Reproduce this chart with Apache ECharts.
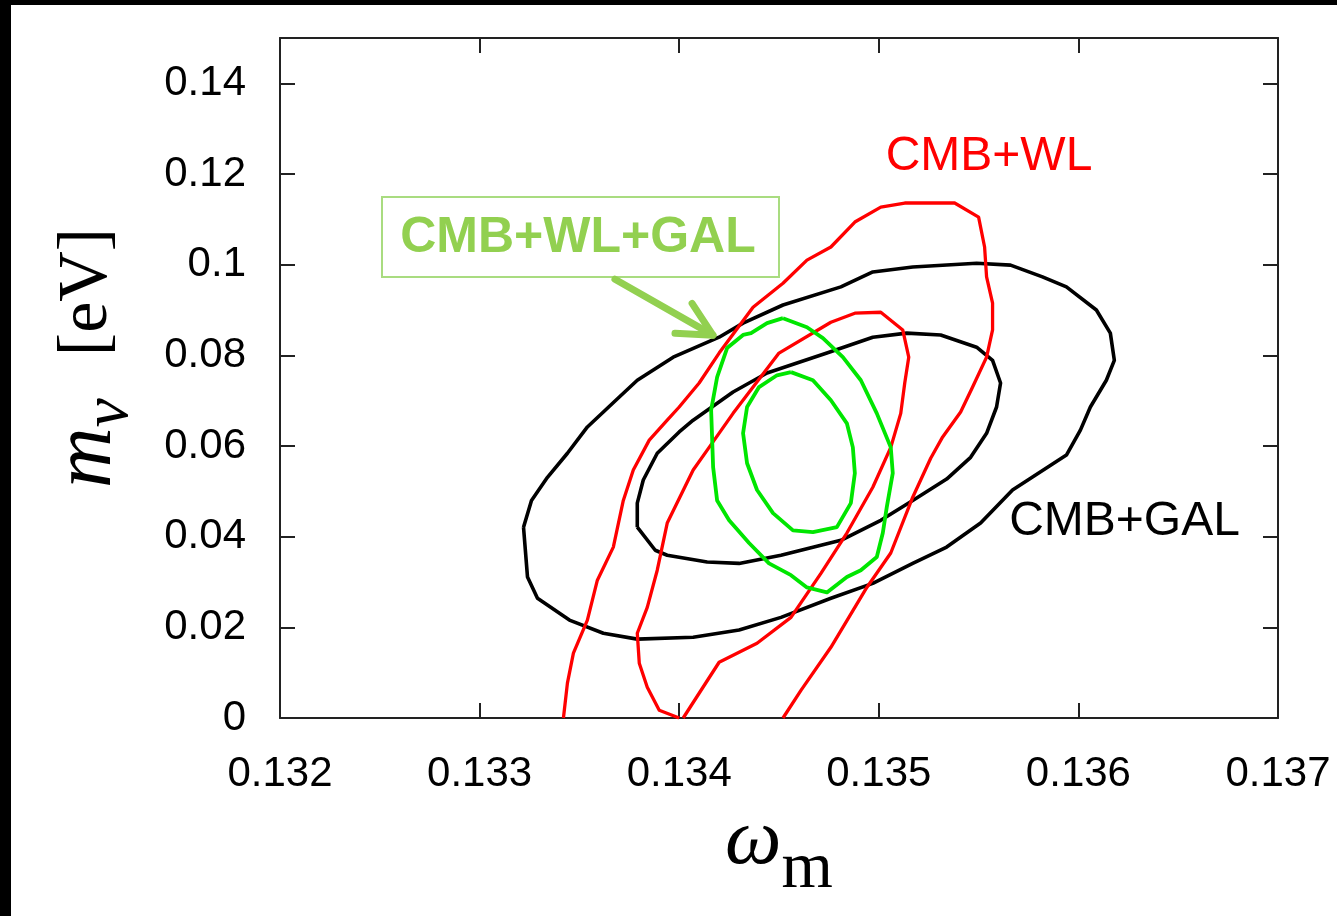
<!DOCTYPE html>
<html>
<head>
<meta charset="utf-8">
<script src="https://cdn.jsdelivr.net/npm/echarts@6/dist/echarts.min.js"></script>
<style>
  html, body { margin: 0; padding: 0; background: #000; width: 1337px; height: 916px; overflow: hidden; }
  #main { position: absolute; left: 11px; top: 5px; width: 1326px; height: 911px; background: #fff; }
</style>
</head>
<body>
<div id="main"></div>
<script>
// ---- axis ranges / ticks ----
const xMin = 0.132, xMax = 0.137, xStep = 0.001;
const yMin = 0, yMax = 0.15, yStep = 0.02;

// ---- contour data [omega_m, m_nu] ----
// CMB+WL (red), 2-sigma, open at the bottom
const cmbWlOuter = [
  [0.13342,0],[0.13344,0.0077],[0.13347,0.0143],[0.13354,0.0216],[0.13359,0.0304],
  [0.13367,0.0377],[0.13372,0.0480],[0.13377,0.0547],[0.13385,0.0613],[0.13394,0.0657],
  [0.13400,0.0686],[0.13410,0.0739],[0.13420,0.0805],[0.13437,0.0906],[0.13452,0.0959],
  [0.13464,0.1010],[0.13476,0.1039],[0.13488,0.1094],[0.13501,0.1127],[0.13513,0.1136],
  [0.13538,0.1136],[0.13550,0.1105],[0.13553,0.1039],[0.13554,0.0973],[0.13557,0.0915],
  [0.13557,0.0856],[0.13554,0.0796],[0.13547,0.0730],[0.13541,0.0675],[0.13532,0.0620],
  [0.13526,0.0573],[0.13517,0.0487],[0.13506,0.0364],[0.13494,0.0288],[0.13476,0.0156],
  [0.13461,0.0061],[0.13452,0]
];
// CMB+WL (red), 1-sigma, open at the bottom
const cmbWlInner = [
  [0.13400,0],[0.13390,0.0017],[0.13384,0.0068],[0.13380,0.0121],[0.13379,0.0187],
  [0.13384,0.0244],[0.13389,0.0326],[0.13394,0.0430],[0.13407,0.0547],[0.13415,0.0597],
  [0.13427,0.0672],[0.13450,0.0805],[0.13476,0.0873],[0.13488,0.0893],[0.13501,0.0895],
  [0.13512,0.0856],[0.13515,0.0796],[0.13513,0.0739],[0.13511,0.0672],[0.13506,0.0597],
  [0.13497,0.0509],[0.13484,0.0408],[0.13471,0.0319],[0.13456,0.0222],[0.13439,0.0165],
  [0.13420,0.0123],[0.13402,0]
];
// CMB+GAL (black), 2-sigma, closed
const cmbGalOuter = [
  [0.13322,0.0421],[0.13326,0.0480],[0.13334,0.0531],[0.13344,0.0584],[0.13354,0.0642],
  [0.13370,0.0708],[0.13379,0.0745],[0.13397,0.0796],[0.13420,0.0840],[0.13432,0.0871],
  [0.13452,0.0911],[0.13481,0.0951],[0.13497,0.0984],[0.13517,0.0995],[0.13549,0.1003],
  [0.13566,0.0999],[0.13582,0.0973],[0.13594,0.0951],[0.13609,0.0900],[0.13616,0.0849],
  [0.13618,0.0789],[0.13614,0.0745],[0.13606,0.0686],[0.13601,0.0635],[0.13594,0.0580],
  [0.13567,0.0503],[0.13551,0.0430],[0.13534,0.0377],[0.13517,0.0341],[0.13497,0.0297],
  [0.13476,0.0264],[0.13451,0.0222],[0.13430,0.0194],[0.13407,0.0178],[0.13379,0.0174],
  [0.13362,0.0187],[0.13345,0.0216],[0.13329,0.0264],[0.13324,0.0311],[0.13322,0.0421]
];
// CMB+GAL (black), 1-sigma, closed
const cmbGalInner = [
  [0.13379,0.0421],[0.13379,0.0474],[0.13382,0.0525],[0.13389,0.0584],[0.13400,0.0631],
  [0.13407,0.0657],[0.13427,0.0719],[0.13444,0.0761],[0.13474,0.0805],[0.13497,0.0840],
  [0.13514,0.0849],[0.13531,0.0845],[0.13549,0.0818],[0.13557,0.0789],[0.13561,0.0739],
  [0.13559,0.0686],[0.13554,0.0628],[0.13546,0.0575],[0.13534,0.0527],[0.13517,0.0480],
  [0.13501,0.0436],[0.13481,0.0392],[0.13451,0.0359],[0.13430,0.0341],[0.13414,0.0344],
  [0.13394,0.0359],[0.13388,0.0370],[0.13379,0.0421]
];
// CMB+WL+GAL (green), 2-sigma, closed
const allOuter = [
  [0.13452,0.0882],[0.13464,0.0862],[0.13472,0.0838],[0.13482,0.0796],[0.13491,0.0745],
  [0.13499,0.0672],[0.13506,0.0597],[0.13507,0.0540],[0.13504,0.0465],[0.13502,0.0408],
  [0.13499,0.0355],[0.13491,0.0326],[0.13484,0.0311],[0.13474,0.0277],[0.13464,0.0288],
  [0.13456,0.0315],[0.13445,0.0341],[0.13435,0.0386],[0.13425,0.0436],[0.13419,0.0480],
  [0.13417,0.0553],[0.13416,0.0679],[0.13419,0.0752],[0.13424,0.0816],[0.13432,0.0845],
  [0.13436,0.0849],[0.13444,0.0871],[0.13452,0.0882]
];
// CMB+WL+GAL (green), 1-sigma, closed
const allInner = [
  [0.13456,0.0763],[0.13467,0.0745],[0.13476,0.0701],[0.13484,0.0650],[0.13487,0.0597],
  [0.13488,0.0540],[0.13486,0.0474],[0.13479,0.0421],[0.13467,0.0410],[0.13457,0.0414],
  [0.13447,0.0452],[0.13439,0.0503],[0.13434,0.0562],[0.13432,0.0628],[0.13434,0.0686],
  [0.13440,0.0730],[0.13449,0.0756],[0.13456,0.0763]
];

// ---- annotation anchors (data coordinates) ----
const labelWl = { text: 'CMB+WL', at: [0.135552, 0.12374] };
const labelGal = { text: 'CMB+GAL', at: [0.136231, 0.04319] };
const labelAll = { text: 'CMB+WL+GAL', at: [0.133493, 0.10575], box: [[0.132511, 0.11491], [0.134500, 0.09726]] };
const arrowAll = { from: [0.133678, 0.09680], to: [0.134169, 0.08445] };

const chart = echarts.init(document.getElementById('main'));

const axisLineStyle = { color: '#222', width: 2 };
const tickStyle = { show: true, inside: true, length: 15, lineStyle: { color: '#222', width: 2 } };
const tickFont = { fontFamily: '"Liberation Sans", Arial, sans-serif', fontSize: 42, color: '#000' };

function line(name, data, color, width) {
  return {
    name, type: 'line', data, showSymbol: false, symbol: 'none', smooth: false,
    lineStyle: { color, width, join: 'round' }, silent: true, animation: false, z: 3
  };
}

const option = {
  animation: false,
  backgroundColor: '#fff',
  grid: { left: 269, top: 33, right: 59, bottom: 198, containLabel: false },
  xAxis: [
    {
      type: 'value', position: 'bottom', min: xMin, max: xMax, interval: xStep,
      axisLine: { show: true, onZero: false, lineStyle: axisLineStyle },
      axisTick: tickStyle,
      axisLabel: Object.assign({ margin: 35, showMinLabel: true, showMaxLabel: true,
        formatter: v => v.toFixed(3) }, tickFont),
      splitLine: { show: false },
      name: '{w|ω}{sub|m}',
      nameLocation: 'middle',
      nameGap: 62,
      nameTextStyle: {
        rich: {
          w: { fontFamily: '"Liberation Serif", serif', fontStyle: 'italic', fontSize: 80, lineHeight: 123, color: '#000' },
          sub: { fontFamily: '"Liberation Serif", serif', fontSize: 66, verticalAlign: 'bottom', color: '#000' }
        }
      }
    },
    {
      type: 'value', position: 'top', min: xMin, max: xMax, interval: xStep,
      axisLine: { show: true, onZero: false, lineStyle: axisLineStyle },
      axisTick: tickStyle, axisLabel: { show: false }, splitLine: { show: false }
    }
  ],
  yAxis: [
    {
      type: 'value', position: 'left', min: yMin, max: yMax, interval: yStep,
      axisLine: { show: true, onZero: false, lineStyle: axisLineStyle },
      axisTick: tickStyle,
      axisLabel: Object.assign({ margin: 34, showMinLabel: true, showMaxLabel: false,
        formatter: v => (v > 0.141 ? '' : String(+v.toFixed(2))) }, tickFont),
      splitLine: { show: false },
      name: '{s1| }{m|m}{nu|ν}{s2| }{ev|[eV]}',
      nameLocation: 'middle',
      nameRotate: 90,
      nameGap: 137,
      nameTextStyle: {
        rich: {
          s1: { width: 40, fontSize: 10 },
          m: { fontFamily: '"Liberation Serif", serif', fontStyle: 'italic', fontSize: 84, lineHeight: 110, color: '#000' },
          nu: { fontFamily: '"Liberation Serif", serif', fontStyle: 'italic', fontSize: 66, verticalAlign: 'bottom', color: '#000' },
          s2: { width: 42, fontSize: 10 },
          ev: { fontFamily: '"Liberation Serif", serif', fontSize: 70, color: '#000' }
        }
      }
    },
    {
      type: 'value', position: 'right', min: yMin, max: yMax, interval: yStep,
      axisLine: { show: true, onZero: false, lineStyle: axisLineStyle },
      axisTick: tickStyle, axisLabel: { show: false }, splitLine: { show: false }
    }
  ],
  series: [
    line('CMB+GAL 2σ', cmbGalOuter, '#000000', 3.6),
    line('CMB+GAL 1σ', cmbGalInner, '#000000', 3.6),
    line('CMB+WL 2σ', cmbWlOuter, '#ff0000', 3.3),
    line('CMB+WL 1σ', cmbWlInner, '#ff0000', 3.3),
    line('CMB+WL+GAL 2σ', allOuter, '#00e600', 3.8),
    line('CMB+WL+GAL 1σ', allInner, '#00e600', 3.8)
  ]
};

chart.setOption(option);

const toPx = p => chart.convertToPixel({ seriesIndex: 0 }, p);
const annoGreen = '#92d050';

const pWl = toPx(labelWl.at);
const pGal = toPx(labelGal.at);
const pAll = toPx(labelAll.at);
const b0 = toPx(labelAll.box[0]);
const b1 = toPx(labelAll.box[1]);
const aFrom = toPx(arrowAll.from);
const aTo = toPx(arrowAll.to);

// arrow head wings
const ang = Math.atan2(aFrom[1] - aTo[1], aFrom[0] - aTo[0]);
const wingLen = 38, wingAng = 27 * Math.PI / 180;
const w1 = [aTo[0] + wingLen * Math.cos(ang + wingAng), aTo[1] + wingLen * Math.sin(ang + wingAng)];
const w2 = [aTo[0] + wingLen * Math.cos(ang - wingAng), aTo[1] + wingLen * Math.sin(ang - wingAng)];

chart.setOption({
  graphic: [
    {
      type: 'text', x: pWl[0], y: pWl[1], z: 10,
      style: { text: labelWl.text, fill: '#ff0000', font: '48px "Liberation Sans", Arial, sans-serif', align: 'center', verticalAlign: 'middle' }
    },
    {
      type: 'text', x: pGal[0], y: pGal[1], z: 10,
      style: { text: labelGal.text, fill: '#000000', font: '48px "Liberation Sans", Arial, sans-serif', align: 'center', verticalAlign: 'middle' }
    },
    {
      type: 'rect', z: 10,
      shape: { x: b0[0], y: b0[1], width: b1[0] - b0[0], height: b1[1] - b0[1] },
      style: { fill: 'rgba(255,255,255,0)', stroke: '#a9dc80', lineWidth: 2 }
    },
    {
      type: 'text', x: pAll[0], y: pAll[1], z: 10,
      style: { text: labelAll.text, fill: annoGreen, font: 'bold 50px "Liberation Sans", Arial, sans-serif', align: 'center', verticalAlign: 'middle' }
    },
    {
      type: 'polyline', z: 10,
      shape: { points: [aFrom, aTo] },
      style: { stroke: annoGreen, lineWidth: 7, lineCap: 'round', fill: null }
    },
    {
      type: 'polyline', z: 10,
      shape: { points: [w1, aTo, w2] },
      style: { stroke: annoGreen, lineWidth: 7, lineCap: 'round', lineJoin: 'round', fill: null }
    }
  ]
});
</script>
</body>
</html>
